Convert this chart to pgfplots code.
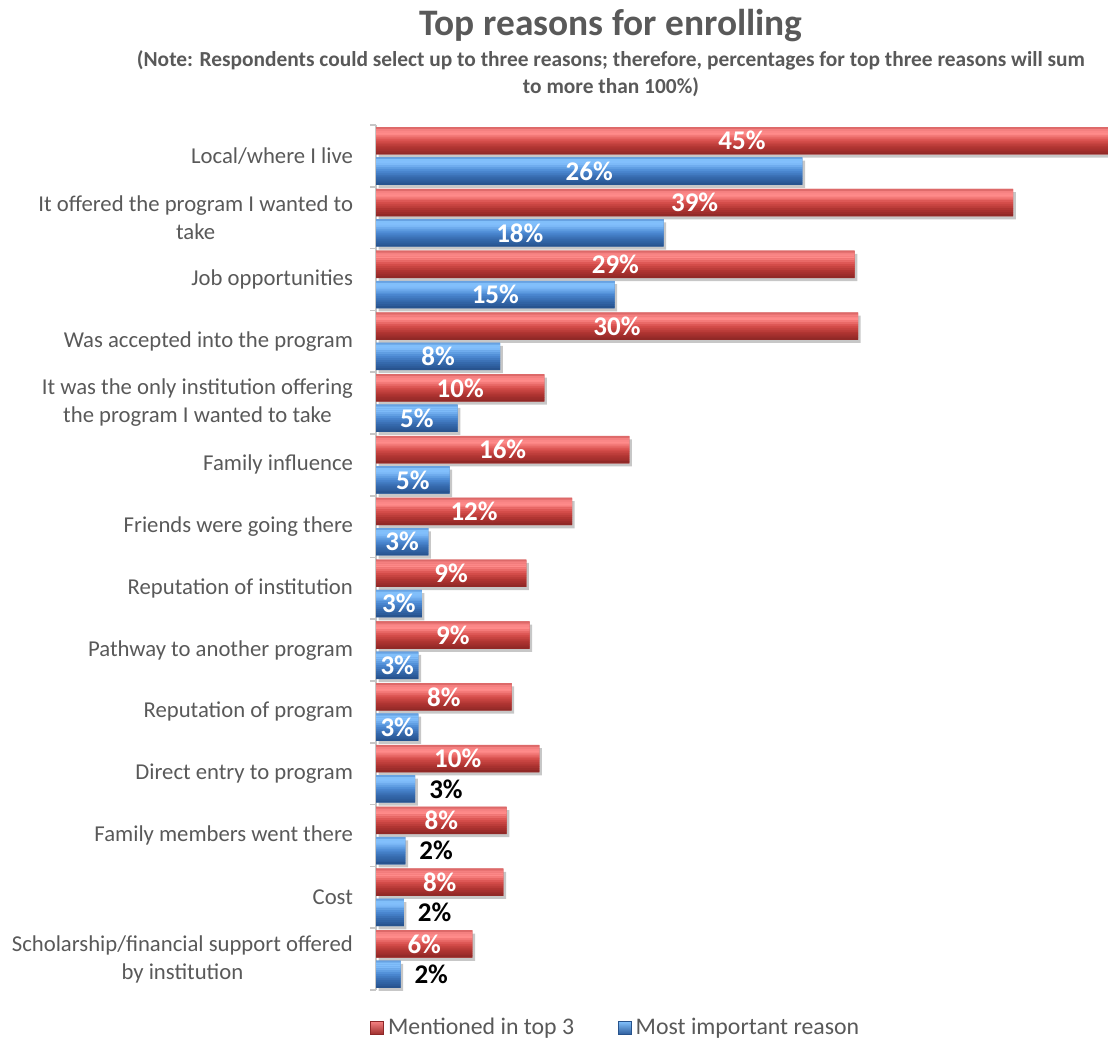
\documentclass[border=0pt]{standalone}
\usepackage{fontspec}
\setmainfont{Carlito}
\usepackage{pgfplots}
\usepackage{pgfplotstable}
\pgfplotsset{compat=1.18}
\usetikzlibrary{shadows}
\definecolor{txt}{HTML}{595959}
\definecolor{redM}{HTML}{C8403D}
\definecolor{redD}{HTML}{8E2828}
\definecolor{bluM}{HTML}{3F7BC4}
\definecolor{bluD}{HTML}{27538C}
% red bands, top to bottom
\definecolor{r0}{HTML}{DD6969}
\definecolor{r1}{HTML}{F48080}
\definecolor{r2}{HTML}{FB8787}
\definecolor{r3}{HTML}{FF8B8A}
\definecolor{r4}{HTML}{F47A79}
\definecolor{r5}{HTML}{E96967}
\definecolor{r6}{HTML}{DE5856}
\definecolor{r7}{HTML}{D34C49}
\definecolor{r8}{HTML}{C74441}
\definecolor{r9}{HTML}{BC3D3A}
\definecolor{r10}{HTML}{B03532}
\definecolor{r11}{HTML}{A7312F}
\definecolor{r12}{HTML}{9D2D2B}
\definecolor{r13}{HTML}{912927}
% blue bands, top to bottom
\definecolor{b0}{HTML}{67A2E2}
\definecolor{b1}{HTML}{81BFFA}
\definecolor{b2}{HTML}{82BFFC}
\definecolor{b3}{HTML}{7DBAF8}
\definecolor{b4}{HTML}{6FACEE}
\definecolor{b5}{HTML}{619FE3}
\definecolor{b6}{HTML}{5391D9}
\definecolor{b7}{HTML}{4985CE}
\definecolor{b8}{HTML}{427CC3}
\definecolor{b9}{HTML}{3C72B7}
\definecolor{b10}{HTML}{3569AC}
\definecolor{b11}{HTML}{3163A4}
\definecolor{b12}{HTML}{2D5C9B}
\definecolor{b13}{HTML}{28548F}

\pgfplotstableread{
y x lab
0 44.8 45
1 39.0 39
2 29.3 29
3 29.5 30
4 10.3 10
5 15.5 16
6 12.0 12
7 9.2 9
8 9.4 9
9 8.3 8
10 10.0 10
11 8.0 8
12 7.8 8
13 5.9 6
}\redtab

\pgfplotstableread{
y x lab
0 26.1 26
1 17.6 18
2 14.6 15
3 7.6 8
4 5.0 5
5 4.5 5
6 3.2 3
7 2.8 3
8 2.6 3
9 2.6 3
10 2.4 3
11 1.8 2
12 1.7 2
13 1.5 2
}\bluetab

\newcommand{\band}[3]{\addplot[xbar, bar width=0.036, bar shift=#2, fill=#3, draw=none, forget plot] table[x=x, y=y]{#1};}

\begin{document}
\begin{tikzpicture}
\path[use as bounding box] (0,0) rectangle (554bp,521bp);
\node[text=txt, font=\bfseries\fontsize{18.7bp}{22bp}\selectfont] at (305.5bp,508bp) {Top reasons for enrolling};
\node[text=txt, font=\bfseries\fontsize{10.7bp}{13.5bp}\selectfont, align=center] at (305.5bp,484bp)
  {(Note: Respondents could select up to three reasons; therefore, percentages for top three reasons will sum\\to more than 100\%)};
\begin{axis}[
  at={(188bp,26bp)}, anchor=south west,
  width=366bp, height=432.5bp, scale only axis,
  xmin=0, xmax=44.8, ymin=-0.5, ymax=13.5, y dir=reverse,
  axis x line=none, axis y line*=left,
  y axis line style={draw=gray!45, line width=0.8bp},
  ytick={0,...,13},
  yticklabels={Local/where I live,
    {It offered the program I wanted to\\take},
    Job opportunities,
    Was accepted into the program,
    {It was the only institution offering\\the program I wanted to take},
    Family influence,
    Friends were going there,
    Reputation of institution,
    Pathway to another program,
    Reputation of program,
    Direct entry to program,
    Family members went there,
    Cost,
    {Scholarship/financial support offered\\by institution}},
  major tick length=0pt,
  minor ytick={-0.5,0.5,...,13.5},
  minor tick length=3bp,
  tick align=outside,
  minor tick style={draw=gray!45, line width=0.8bp},
  yticklabel style={font=\fontsize{11.35bp}{14bp}\selectfont, text=txt, align=center, xshift=-8bp},
  xbar, bar width=0.44,
  legend style={at={(0.329,-0.044)}, anchor=center, legend columns=2, draw=none,
    font=\fontsize{11.9bp}{13bp}\selectfont, text=txt,
    /tikz/every even column/.append style={column sep=20bp}},
  legend image code/.code={\draw[#1] (0bp,-3.25bp) rectangle (6.5bp,3.25bp);},
]
% shadows / base bars
\addplot[xbar, bar shift=-0.245, fill=redM, draw=none, forget plot,
  drop shadow={shadow xshift=1.3bp, shadow yshift=-1.6bp, opacity=0.22, fill=black}]
  table[x=x, y=y]{\redtab};
\addplot[xbar, bar shift=0.245, fill=bluM, draw=none, forget plot,
  drop shadow={shadow xshift=1.3bp, shadow yshift=-1.6bp, opacity=0.22, fill=black}]
  table[x=x, y=y]{\bluetab};
% red gradient bands
\band{\redtab}{-0.44929}{r0}
\band{\redtab}{-0.41786}{r1}
\band{\redtab}{-0.38643}{r2}
\band{\redtab}{-0.35500}{r3}
\band{\redtab}{-0.32357}{r4}
\band{\redtab}{-0.29214}{r5}
\band{\redtab}{-0.26071}{r6}
\band{\redtab}{-0.22929}{r7}
\band{\redtab}{-0.19786}{r8}
\band{\redtab}{-0.16643}{r9}
\band{\redtab}{-0.13500}{r10}
\band{\redtab}{-0.10357}{r11}
\band{\redtab}{-0.07214}{r12}
\band{\redtab}{-0.04071}{r13}
% blue gradient bands
\band{\bluetab}{0.04071}{b0}
\band{\bluetab}{0.07214}{b1}
\band{\bluetab}{0.10357}{b2}
\band{\bluetab}{0.13500}{b3}
\band{\bluetab}{0.16643}{b4}
\band{\bluetab}{0.19786}{b5}
\band{\bluetab}{0.22929}{b6}
\band{\bluetab}{0.26071}{b7}
\band{\bluetab}{0.29214}{b8}
\band{\bluetab}{0.32357}{b9}
\band{\bluetab}{0.35500}{b10}
\band{\bluetab}{0.38643}{b11}
\band{\bluetab}{0.41786}{b12}
\band{\bluetab}{0.44929}{b13}
% labels
\addplot[xbar, bar shift=-0.245, fill=none, draw=none, forget plot,
  point meta=explicit symbolic, nodes near coords={\pgfplotspointmeta\%},
  visualization depends on={x \as \rawx},
  every node near coord/.append style={anchor=center, text=white,
    font=\bfseries\fontsize{13.5bp}{14bp}\selectfont,
    shift={(axis direction cs:-\rawx/2,0)}}]
  table[x=x, y=y, meta=lab]{\redtab};
\addplot[xbar, bar shift=0.245, fill=none, draw=none, forget plot,
  restrict y to domain=-1:9.5,
  point meta=explicit symbolic, nodes near coords={\pgfplotspointmeta\%},
  visualization depends on={x \as \rawx},
  every node near coord/.append style={anchor=center, text=white,
    font=\bfseries\fontsize{13.5bp}{14bp}\selectfont,
    shift={(axis direction cs:-\rawx/2,0)}}]
  table[x=x, y=y, meta=lab]{\bluetab};
\addplot[xbar, bar shift=0.245, fill=none, draw=none, forget plot,
  restrict y to domain=9.5:14,
  point meta=explicit symbolic, nodes near coords={\pgfplotspointmeta\%},
  every node near coord/.append style={anchor=west, text=black, xshift=3.5bp,
    font=\bfseries\fontsize{13.5bp}{14bp}\selectfont}]
  table[x=x, y=y, meta=lab]{\bluetab};
\addlegendimage{top color=r1, bottom color=r12, draw=redD, line width=0.3bp}
\addlegendentry{Mentioned in top 3}
\addlegendimage{top color=b1, bottom color=b12, draw=bluD, line width=0.3bp}
\addlegendentry{Most important reason}
\end{axis}
\end{tikzpicture}
\end{document}
